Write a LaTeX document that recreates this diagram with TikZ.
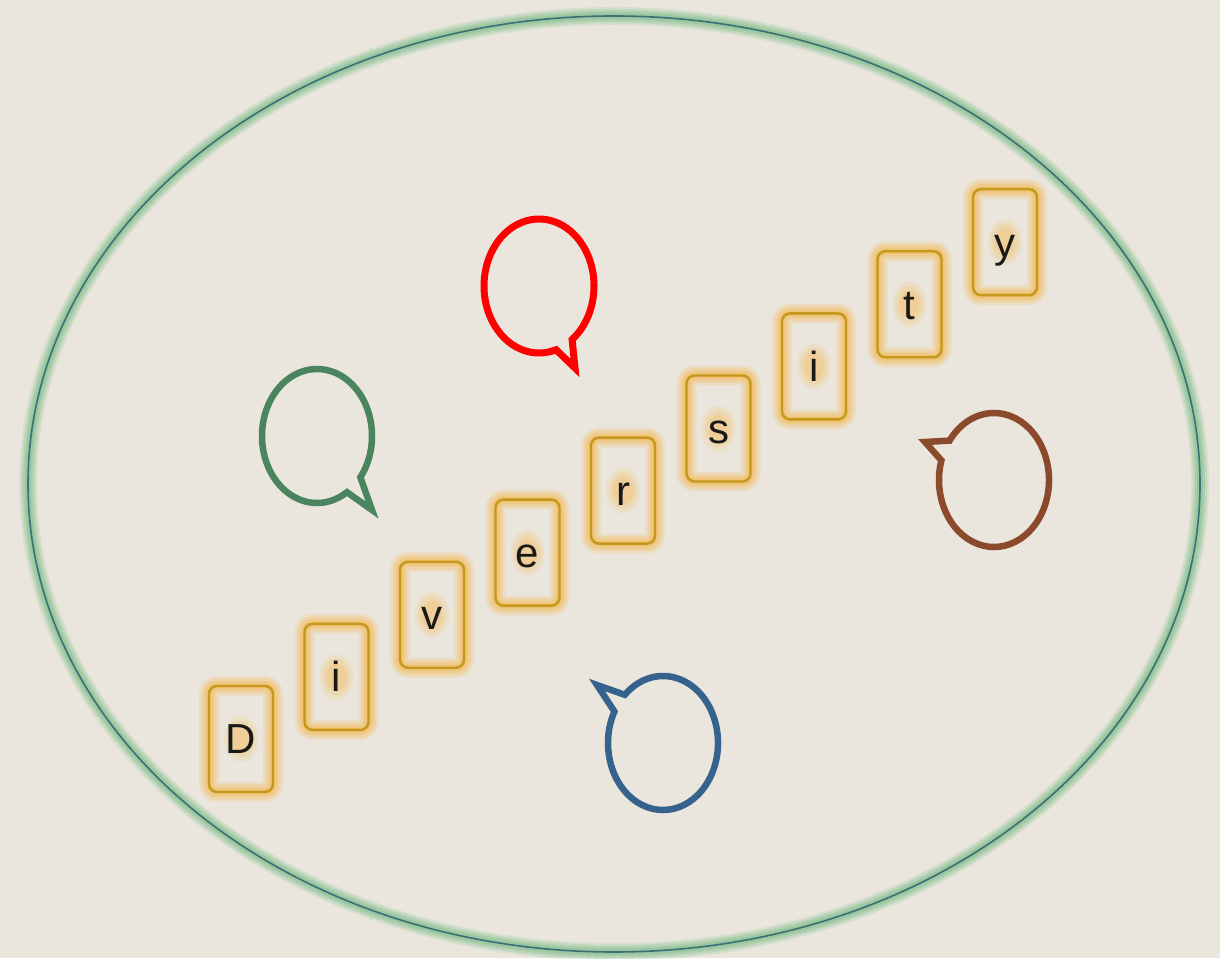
\documentclass[tikz,border=0pt]{standalone}
\usepackage{fontspec}
\setmainfont{Liberation Sans}
\usetikzlibrary{calc}
\definecolor{bg}{RGB}{234,230,221}
\definecolor{halo}{RGB}{140,195,150}
\definecolor{rim}{RGB}{62,110,118}
\definecolor{gold}{RGB}{196,152,28}
\definecolor{glow}{RGB}{245,185,80}
\definecolor{bred}{RGB}{255,0,0}
\definecolor{bgreen}{RGB}{74,133,96}
\definecolor{bbrown}{RGB}{139,74,43}
\definecolor{bblue}{RGB}{53,99,141}
\definecolor{ink}{RGB}{25,25,25}
\tikzset{
  bubble/.style={line width=6.5pt, line join=miter, miter limit=4},
  letterbox/.style={draw=gold, line width=2.4pt, rounded corners=8pt, minimum width=64pt, minimum height=106pt, inner sep=0pt},
  lettertext/.style={font=\fontsize{42}{50}\selectfont, anchor=base, inner sep=0pt, text=ink},
}
\begin{document}
\begin{tikzpicture}[x=1pt,y=1pt]
\fill[bg] (0,0) rectangle (1220,958);
\useasboundingbox (0,0) rectangle (1220,958);
% outer ellipse with soft green halo
\foreach \w/\o in {18/0.2,14/0.3,10/0.4,6/0.55}{
  \draw[halo, line width=\w pt, opacity=\o] (614,474) ellipse[x radius=586, y radius=468];
}
\draw[rim, line width=1.6pt] (614,474) ellipse[x radius=586, y radius=468];
% letter tiles
\foreach \ch [count=\k from 0] in {D,i,v,e,r,s,i,t,y}{
  \pgfmathsetmacro\cx{241+95.5*\k}
  \pgfmathsetmacro\cy{219+62.1*\k}
  \foreach \w/\o in {20/0.18,15/0.25,10/0.32,5/0.42}{
    \draw[glow, line width=\w pt, opacity=\o, rounded corners=8pt] (\cx-32,\cy-53) rectangle (\cx+32,\cy+53);
  }
  \foreach \r/\o in {1.0/0.15,0.8/0.2,0.6/0.25}{
    \fill[glow, opacity=\o] (\cx,\cy) ellipse[x radius=17*\r, y radius=23*\r];
  }
  \node[letterbox] (b\k) at (\cx,\cy) {};
  \node[lettertext] (t\k) at (\cx,\cy-15) {\ch};
}
% speech bubbles
\draw[bubble, bred, line width=7pt] (539,672) ++(-53:55 and 67) arc[start angle=-53, end angle=288, x radius=55, y radius=67] -- (575,590) -- cycle;
\draw[bubble, bgreen] (317,522) ++(-38:55 and 67) arc[start angle=-38, end angle=303, x radius=55, y radius=67] -- (372,448) -- cycle;
\draw[bubble, bbrown] (994,478) ++(163:55 and 67) arc[start angle=163, end angle=504, x radius=55, y radius=67] -- (925,516) -- cycle;
\draw[bubble, bblue] (663,215) ++(152:55 and 67) arc[start angle=152, end angle=494, x radius=55, y radius=67] -- (597,273) -- cycle;
\end{tikzpicture}
\end{document}
